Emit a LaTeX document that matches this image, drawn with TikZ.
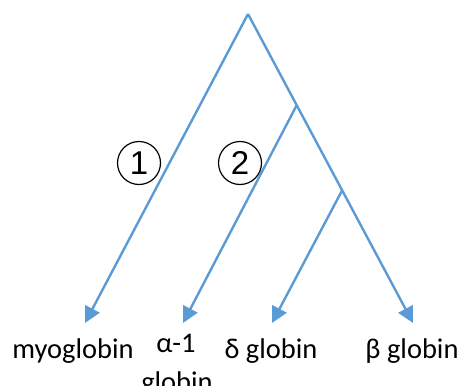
\documentclass[tikz,border=0pt]{standalone}
\usepackage{fontspec}
\setmainfont{Carlito}
\newfontfamily\numfont{Liberation Sans}
\usetikzlibrary{arrows.meta}
\definecolor{lineblue}{HTML}{5B9BD5}
\begin{document}
\begin{tikzpicture}[x=1pt,y=-1pt,
  arr/.style={draw=lineblue,line width=2.4pt,-{Triangle[length=16pt,width=16pt]}},
  lbl/.style={anchor=base,inner sep=0pt,font=\fontsize{28.5}{33}\selectfont},
  numcirc/.style={draw=black,line width=1.2pt,circle,minimum size=43pt,inner sep=0pt,font=\numfont\fontsize{33}{33}\selectfont}]
\useasboundingbox (0,0) rectangle (457,385);
\coordinate (top) at (248,14);
\coordinate (b1) at (296.8,105);
\coordinate (b2) at (342.3,190);
\coordinate (tmyo) at (85,323);
\coordinate (talpha) at (183,323);
\coordinate (tdelta) at (272,323);
\coordinate (tbeta) at (413,323);
\draw[arr] (top) -- (tmyo);
\draw[arr] (top) -- (tbeta);
\draw[arr] (b1) -- (talpha);
\draw[arr] (b2) -- (tdelta);
\node[numcirc] (c1) at (139,163) {1};
\node[numcirc] (c2) at (240,163) {2};
\node[lbl] (myo) at (73,358) {myoglobin};
\node[lbl] (alpha) at (176,352) {α-1};
\node[lbl] (alpha2) at (177,391) {globin};
\node[lbl] (delta) at (271,358) {δ globin};
\node[lbl] (beta) at (412,358) {β globin};
\end{tikzpicture}
\end{document}
